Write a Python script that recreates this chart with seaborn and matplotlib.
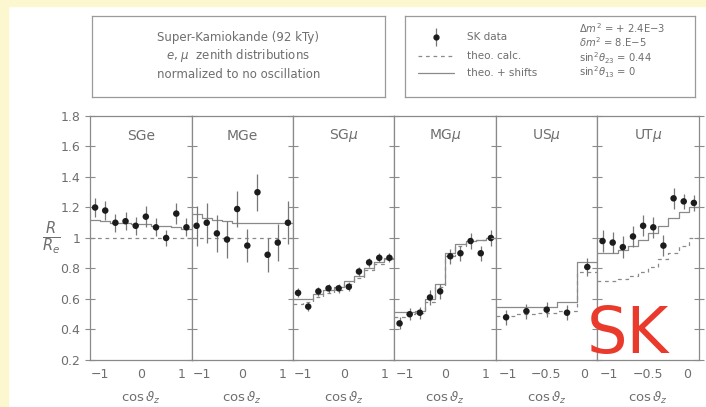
"""
Super-Kamiokande zenith distributions (R/R_e) in six event samples
"""
import numpy as np
import seaborn as sns
import matplotlib.pyplot as plt
from matplotlib.patches import Rectangle

# ---------------- data ----------------
paneles = ['SGe', 'MGe', r'SG$\mu$', r'MG$\mu$', r'US$\mu$', r'UT$\mu$']

cos_10 = [-1.125, -0.875, -0.625, -0.375, -0.125, 0.125, 0.375, 0.625, 0.875, 1.125]
bordes_10 = [-1.25, -1.0, -0.75, -0.5, -0.25, 0.0, 0.25, 0.5, 0.75, 1.0, 1.25]
cos_us = [-1.018, -0.754, -0.49, -0.226, 0.038]
bordes_us = [-1.15, -0.886, -0.622, -0.358, -0.094, 0.17]
cos_ut = [-1.085, -0.955, -0.825, -0.695, -0.565, -0.435, -0.305, -0.175, -0.045, 0.085]
bordes_ut = [-1.15, -1.02, -0.89, -0.76, -0.63, -0.5, -0.37, -0.24, -0.11, 0.02, 0.15]

sge_datos = [1.20, 1.18, 1.10, 1.11, 1.08, 1.14, 1.07, 1.00, 1.16, 1.07]
sge_err = [0.06, 0.06, 0.06, 0.06, 0.06, 0.07, 0.06, 0.05, 0.07, 0.06]
sge_calc = [1.0, 1.0, 1.0, 1.0, 1.0, 1.0, 1.0, 1.0, 1.0, 1.0]
sge_shift = [1.12, 1.11, 1.10, 1.10, 1.09, 1.09, 1.08, 1.08, 1.07, 1.06]

mge_datos = [1.08, 1.10, 1.03, 0.99, 1.19, 0.95, 1.30, 0.89, 0.97, 1.10]
mge_err = [0.13, 0.13, 0.12, 0.12, 0.12, 0.11, 0.12, 0.11, 0.12, 0.14]
mge_calc = [1.0, 1.0, 1.0, 1.0, 1.0, 1.0, 1.0, 1.0, 1.0, 1.0]
mge_shift = [1.16, 1.13, 1.12, 1.11, 1.10, 1.10, 1.10, 1.10, 1.10, 1.10]

sgm_datos = [0.64, 0.55, 0.65, 0.67, 0.67, 0.68, 0.78, 0.84, 0.87, 0.87]
sgm_err = [0.03, 0.03, 0.03, 0.03, 0.03, 0.03, 0.03, 0.03, 0.03, 0.03]
sgm_calc = [0.57, 0.58, 0.61, 0.64, 0.66, 0.70, 0.74, 0.79, 0.83, 0.86]
sgm_shift = [0.60, 0.60, 0.63, 0.66, 0.68, 0.72, 0.75, 0.80, 0.84, 0.87]

mgm_datos = [0.44, 0.50, 0.51, 0.61, 0.65, 0.88, 0.90, 0.98, 0.90, 1.00]
mgm_err = [0.04, 0.04, 0.04, 0.05, 0.05, 0.05, 0.05, 0.05, 0.05, 0.05]
mgm_calc = [0.48, 0.50, 0.51, 0.58, 0.68, 0.88, 0.95, 0.98, 0.99, 1.00]
mgm_shift = [0.515, 0.515, 0.52, 0.60, 0.70, 0.90, 0.96, 0.98, 0.99, 1.00]

usm_datos = [0.48, 0.52, 0.53, 0.51, 0.81]
usm_err = [0.05, 0.05, 0.05, 0.05, 0.06]
usm_calc = [0.49, 0.50, 0.51, 0.52, 0.78]
usm_shift = [0.545, 0.55, 0.55, 0.58, 0.845]

utm_datos = [0.98, 0.97, 0.94, 1.01, 1.08, 1.07, 0.95, 1.26, 1.24, 1.23]
utm_err = [0.07, 0.07, 0.07, 0.07, 0.07, 0.07, 0.07, 0.07, 0.05, 0.05]
utm_calc = [0.72, 0.72, 0.73, 0.75, 0.78, 0.81, 0.86, 0.90, 0.95, 1.00]
utm_shift = [0.90, 0.90, 0.92, 0.95, 0.99, 1.03, 1.08, 1.13, 1.17, 1.20]

yticks = [0.2, 0.4, 0.6, 0.8, 1.0, 1.2, 1.4, 1.6, 1.8]
yticklabels = ['0.2', '0.4', '0.6', '0.8', '1', '1.2', '1.4', '1.6', '1.8']

# ---------------- figura ----------------
sns.set_style('white')
plt.rcParams['font.family'] = ['DejaVu Sans']
plt.rcParams['mathtext.fontset'] = 'dejavusans'

GRIS = '#8a8a8a'
TEXTO = '#6e6e6e'

fig, axes = plt.subplots(1, 6, figsize=(7.06, 4.07), dpi=100, sharey=True)
fig.subplots_adjust(left=0.1275, right=0.990, bottom=0.1155, top=0.715, wspace=0)

# franjas amarillas del fondo
fig.patches.append(Rectangle((0, 0), 0.011, 1, transform=fig.transFigure,
                             color='#fdf7cf', zorder=0))
fig.patches.append(Rectangle((0, 0.985), 1, 0.015, transform=fig.transFigure,
                             color='#fdf7cf', zorder=0))

conjuntos = [
    (cos_10, bordes_10, sge_datos, sge_err, sge_calc, sge_shift),
    (cos_10, bordes_10, mge_datos, mge_err, mge_calc, mge_shift),
    (cos_10, bordes_10, sgm_datos, sgm_err, sgm_calc, sgm_shift),
    (cos_10, bordes_10, mgm_datos, mgm_err, mgm_calc, mgm_shift),
    (cos_us, bordes_us, usm_datos, usm_err, usm_calc, usm_shift),
    (cos_ut, bordes_ut, utm_datos, utm_err, utm_calc, utm_shift),
]

for i, (ax, nombre, (xc, bordes, datos, err, calc, shift)) in enumerate(zip(axes, paneles, conjuntos)):
    # curvas teoricas en escalones
    sns.lineplot(x=bordes, y=list(calc) + [calc[-1]], ax=ax, drawstyle='steps-post',
                 color=GRIS, lw=0.9, ls=(0, (3, 3)), estimator=None, sort=False)
    sns.lineplot(x=bordes, y=list(shift) + [shift[-1]], ax=ax, drawstyle='steps-post',
                 color=GRIS, lw=0.9, estimator=None, sort=False)
    # datos SK
    ax.errorbar(xc, datos, yerr=err, fmt='none', ecolor='#777777', elinewidth=0.9, zorder=3)
    sns.scatterplot(x=xc, y=datos, ax=ax, color='#1c1c1c', s=22, edgecolor='none', zorder=4)

    ax.set_xlim(bordes[0], bordes[-1])
    ax.set_ylim(0.2, 1.8)
    if i < 4:
        ax.set_xticks([-1, 0, 1])
        ax.set_xticklabels(['\u22121', '0', '1'])
    else:
        ax.set_xticks([-1, -0.5, 0])
        ax.set_xticklabels(['\u22121', '\u22120.5', '0'])
    ax.set_yticks(yticks)
    ax.set_yticklabels(yticklabels)
    ax.tick_params(axis='y', direction='inout', length=7, width=0.8, color=GRIS,
                   labelcolor=TEXTO, labelsize=9, left=True, right=(i == 5))
    ax.tick_params(axis='x', direction='in', length=4, width=0.8, color=GRIS,
                   labelcolor=TEXTO, labelsize=9, pad=6)
    for s in ax.spines.values():
        s.set_color(GRIS)
        s.set_linewidth(0.9)
    ax.set_xlabel(r'cos$\,\vartheta_z$', color=TEXTO, fontsize=9.5, labelpad=6)
    ax.set_ylabel('')
    ax.text(0.5, 0.92, nombre, transform=ax.transAxes, ha='center', va='center',
            color=TEXTO, fontsize=10)

fig.text(0.073, 0.415, r'$\frac{R}{R_e}$', fontsize=15, color=TEXTO, ha='center', va='center')

# SK en rojo
fig.text(0.889, 0.177, 'SK', color='#ea3a2c', fontsize=46, ha='center', va='center', zorder=10)

# recuadro de titulo
caja1 = fig.add_axes([0.130, 0.762, 0.415, 0.199])
caja2 = fig.add_axes([0.5735, 0.762, 0.411, 0.199])
for caja in (caja1, caja2):
    caja.set_xlim(0, 1)
    caja.set_ylim(0, 1)
    caja.set_xticks([])
    caja.set_yticks([])
    for s in caja.spines.values():
        s.set_visible(True)
        s.set_color('#9a9a9a')
        s.set_linewidth(0.9)

titulo = ['Super-Kamiokande (92 kTy)', r'$e$, $\mu$  zenith distributions',
          'normalized to no oscillation']
for k, linea in enumerate(titulo):
    caja1.text(0.5, 0.73 - 0.225 * k, linea, ha='center', va='center', color=TEXTO, fontsize=8.5)

# leyenda
caja2.errorbar([0.108], [0.74], yerr=[0.11], fmt='o', ms=3.5, color='#1c1c1c',
               ecolor='#777777', elinewidth=0.9)
caja2.plot([0.045, 0.17], [0.51, 0.51], color=GRIS, lw=0.9, ls=(0, (3, 3)))
caja2.plot([0.045, 0.17], [0.30, 0.30], color=GRIS, lw=0.9)
etiquetas = ['SK data', 'theo. calc.', 'theo. + shifts']
for y, t in zip([0.74, 0.51, 0.30], etiquetas):
    caja2.text(0.215, y, t, ha='left', va='center', color=TEXTO, fontsize=7.5)

parametros = [r'$\Delta m^2$ = + 2.4E$-$3', r'$\delta m^2$ = 8.E$-$5',
              r'sin$^2\theta_{23}$ = 0.44', r'sin$^2\theta_{13}$ = 0']
for y, t in zip([0.85, 0.68, 0.48, 0.30], parametros):
    caja2.text(0.60, y, t, ha='left', va='center', color=TEXTO, fontsize=7.2)

plt.savefig('out.png', dpi=100)
